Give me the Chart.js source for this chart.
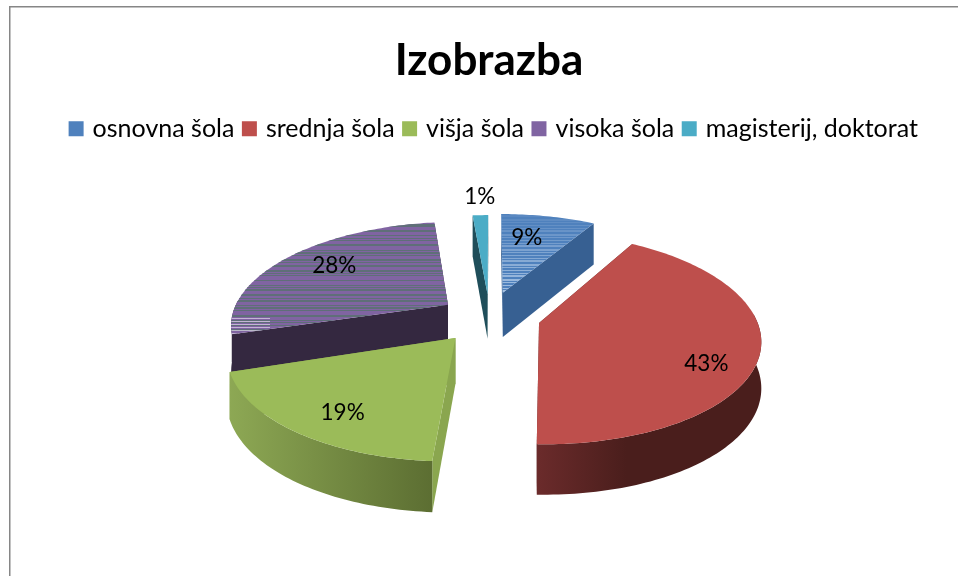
<!DOCTYPE html>
<html>
<head>
<meta charset="utf-8">
<title>Izobrazba</title>
<script src="https://cdn.jsdelivr.net/npm/chart.js@4"></script>
<style>
  html, body { margin: 0; padding: 0; background: #fff; overflow: hidden; }
  canvas { display: block; }
</style>
</head>
<body>
<canvas id="pieChart" width="958" height="576"></canvas>
<script>
const categories = ["osnovna šola", "srednja šola", "višja šola", "visoka šola", "magisterij, doktorat"];
const shares = [9, 43, 19, 28, 1];
const percentLabels = ["9%", "43%", "19%", "28%", "1%"];

// slice look, same order as categories
const topColors = ["#4f81bd", "#be4f4c", "#9bbb59", "#8064a2", "#4bacc6"];
const wallColors = ["#376092", "#5e2826", "#8aa64f", "#342840", "#1f4e5a"];
const rimColors = [
  ["#376092", "#376092"],
  ["#6b2b2b", "#4a1e1c"],
  ["#8da854", "#5c6e32"],
  ["#342840", "#342840"],
  ["#1f4e5a", "#1f4e5a"]
];
const explode = [160, 176, 220, 220, 140];

// the 3D view of the original is not a clean projection, these pull each slice onto it
const angleTweak = [[0, -2], [0.6, -5.7], [-3.5, -7.5], [-3, -3.9], [-1.4, 0]];
const planeNudge = [[0, 0], [0, 3], [4, 0], [4, 19], [-3.5, 0]];
const apexNudge = [[0, 0], [5, 5], [-3, 9], [-4, 1], [0, 0]];
const labelFraction = [0.62, 0.72, 0.58, 0.62, 1.2];
const labelNudge = [[-8, -5], [13, 20], [-18, 33], [-19, -5], [-2, -5]];

// 3D view of the flat pie
const tilt = 0.455;
const perspective = 0.00086;
const thickness = 45;
const shiftX = 3;
const shiftY = -4;
const legendShift = 6;

function project(cx, cy, u, v, z) {
  const s = 1 / (1 - perspective * v);
  return [cx + u * s, cy + tilt * v * s + z * thickness * Math.sqrt(s)];
}

function tracePath(ctx, pts) {
  ctx.beginPath();
  pts.forEach((p, i) => i ? ctx.lineTo(p[0], p[1]) : ctx.moveTo(p[0], p[1]));
  ctx.closePath();
}

// horizontal scan line streaks seen on the blue and purple tops
function drawStreaks(ctx, pts, index) {
  const ys = pts.map(p => p[1]);
  const top = Math.floor(Math.min(...ys));
  const bottom = Math.ceil(Math.max(...ys));
  ctx.save();
  tracePath(ctx, pts);
  ctx.clip();
  for (let y = top; y < bottom; y++) {
    const t = (y - top) / (bottom - top);
    if (index === 0 && (y % 3 === 0 || y % 5 === 0)) {
      ctx.fillStyle = "rgba(205,222,242," + (0.08 + 0.62 * t) + ")";
      ctx.fillRect(400, y, 300, 1);
    }
    if (index === 3) {
      if (y % 5 === 0 || y % 7 === 0 || y % 9 === 1) {
        ctx.fillStyle = "#5f6f78";
        ctx.fillRect(200, y, 300, 1);
      }
      if (t > 0.84 && y % 3 === 0) {
        ctx.fillStyle = "rgba(225,215,235,0.7)";
        ctx.fillRect(200, y, 70, 1);
      }
    }
  }
  ctx.restore();
}

const pie3d = {
  id: "pie3d",
  afterLayout(chart) {
    chart.legend.left += legendShift;
    chart.legend.right += legendShift;
  },
  beforeDraw(chart) {
    const ctx = chart.ctx;
    ctx.save();
    ctx.fillStyle = "#fff";
    ctx.fillRect(0, 0, chart.width, chart.height);
    ctx.fillStyle = "#868686";
    ctx.fillRect(9, 6, chart.width - 9, 1.5);
    ctx.fillRect(9, 6, 1.5, chart.height - 6);
    ctx.restore();
  },
  beforeDatasetDraw() {
    return false; // the flat arcs are replaced by the projected ones below
  },
  afterDatasetsDraw(chart) {
    const ctx = chart.ctx;
    const arcs = chart.getDatasetMeta(0).data;

    const slices = arcs.map((arc, index) => {
      const { x, y, startAngle, endAngle, outerRadius } = arc.getProps(["x", "y", "startAngle", "endAngle", "outerRadius"], true);
      const mid = (startAngle + endAngle) / 2;
      const off = (arc.options.offset || 0) / 4;
      const ou = Math.cos(mid) * off + planeNudge[index][0];
      const ov = Math.sin(mid) * off + planeNudge[index][1];
      const cx = x + shiftX;
      const cy = y + shiftY;
      const from = startAngle + angleTweak[index][0] * Math.PI / 180;
      const to = endAngle + angleTweak[index][1] * Math.PI / 180;
      const rim = [];
      const n = Math.max(4, Math.ceil((to - from) / 0.02));
      for (let i = 0; i <= n; i++) {
        const a = from + (to - from) * i / n;
        rim.push([ou + outerRadius * Math.cos(a), ov + outerRadius * Math.sin(a), a]);
      }
      return { index, x: cx, y: cy, ou, ov, mid, rim, outerRadius };
    });

    // far slices first
    const order = slices.slice().sort((a, b) => a.ov - b.ov);
    order.forEach(s => {
      const { index, x, y, ou, ov, rim } = s;
      const nudge = apexNudge[index];
      const apexTop = project(x, y, ou, ov, 0);
      const apexLow = project(x, y, ou, ov, 1);
      apexTop[0] += nudge[0]; apexTop[1] += nudge[1];
      apexLow[0] += nudge[0]; apexLow[1] += nudge[1];
      const first = rim[0];
      const last = rim[rim.length - 1];
      const walls = [
        { v: (ov + first[1]) / 2, pts: [apexTop, project(x, y, first[0], first[1], 0), project(x, y, first[0], first[1], 1), apexLow], fill: wallColors[index] },
        { v: (ov + last[1]) / 2, pts: [apexTop, project(x, y, last[0], last[1], 0), project(x, y, last[0], last[1], 1), apexLow], fill: wallColors[index] }
      ];

      const front = rim.filter(p => Math.sin(p[2]) > -0.05);
      if (front.length > 1) {
        const upper = front.map(p => project(x, y, p[0], p[1], 0));
        const lower = front.map(p => project(x, y, p[0], p[1], 1)).reverse();
        const xs = upper.map(p => p[0]);
        const grad = ctx.createLinearGradient(Math.min(...xs), 0, Math.max(...xs), 0);
        const pair = rimColors[index];
        // the red rim gets lighter towards its left end, the green one darker to its right
        if (index === 1) {
          grad.addColorStop(0, pair[0]);
          grad.addColorStop(0.4, pair[1]);
          grad.addColorStop(1, pair[1]);
        } else {
          grad.addColorStop(0, pair[0]);
          grad.addColorStop(1, pair[1]);
        }
        walls.push({ v: ov + s.outerRadius, pts: upper.concat(lower), fill: grad });
      }

      walls.sort((a, b) => a.v - b.v).forEach(w => {
        tracePath(ctx, w.pts);
        ctx.fillStyle = w.fill;
        ctx.fill();
      });

      const face = [apexTop].concat(rim.map(p => project(x, y, p[0], p[1], 0)));
      tracePath(ctx, face);
      ctx.fillStyle = topColors[index];
      ctx.fill();
      if (index === 0 || index === 3) drawStreaks(ctx, face, index);
    });

    // percent labels
    ctx.save();
    ctx.fillStyle = "#000";
    ctx.font = "22.5px Lato";
    ctx.textAlign = "center";
    ctx.textBaseline = "middle";
    slices.forEach(s => {
      const f = labelFraction[s.index] * s.outerRadius;
      const p = project(s.x, s.y, s.ou + f * Math.cos(s.mid), s.ov + f * Math.sin(s.mid), 0);
      ctx.fillText(percentLabels[s.index], p[0] + labelNudge[s.index][0], p[1] + labelNudge[s.index][1]);
    });
    ctx.restore();
  }
};

const baseLegendLabels = Chart.overrides.pie.plugins.legend.labels.generateLabels;

new Chart(document.getElementById("pieChart").getContext("2d"), {
  type: "pie",
  data: {
    labels: categories,
    datasets: [{
      data: shares,
      backgroundColor: topColors,
      borderWidth: 0,
      offset: explode,
      radius: 218
    }]
  },
  options: {
    responsive: false,
    animation: false,
    rotation: 0,
    layout: { padding: { left: 20, bottom: 100 } },
    plugins: {
      title: {
        display: true,
        text: "Izobrazba",
        color: "#000",
        font: { family: "Lato", size: 44, weight: "bold" },
        padding: { top: 34, bottom: 18.5 }
      },
      legend: {
        position: "top",
        labels: {
          color: "#000",
          font: { family: "Lato", size: 25 },
          boxWidth: 8,
          boxHeight: 8,
          padding: 11,
          // small box plus a thick same colour stroke, keeps the text close to the swatch
          generateLabels(chart) {
            return baseLegendLabels(chart).map(item => {
              item.strokeStyle = item.fillStyle;
              item.lineWidth = 7;
              item.lineJoin = "miter";
              return item;
            });
          }
        }
      },
      tooltip: { enabled: false }
    }
  },
  plugins: [pie3d]
});
</script>
</body>
</html>
